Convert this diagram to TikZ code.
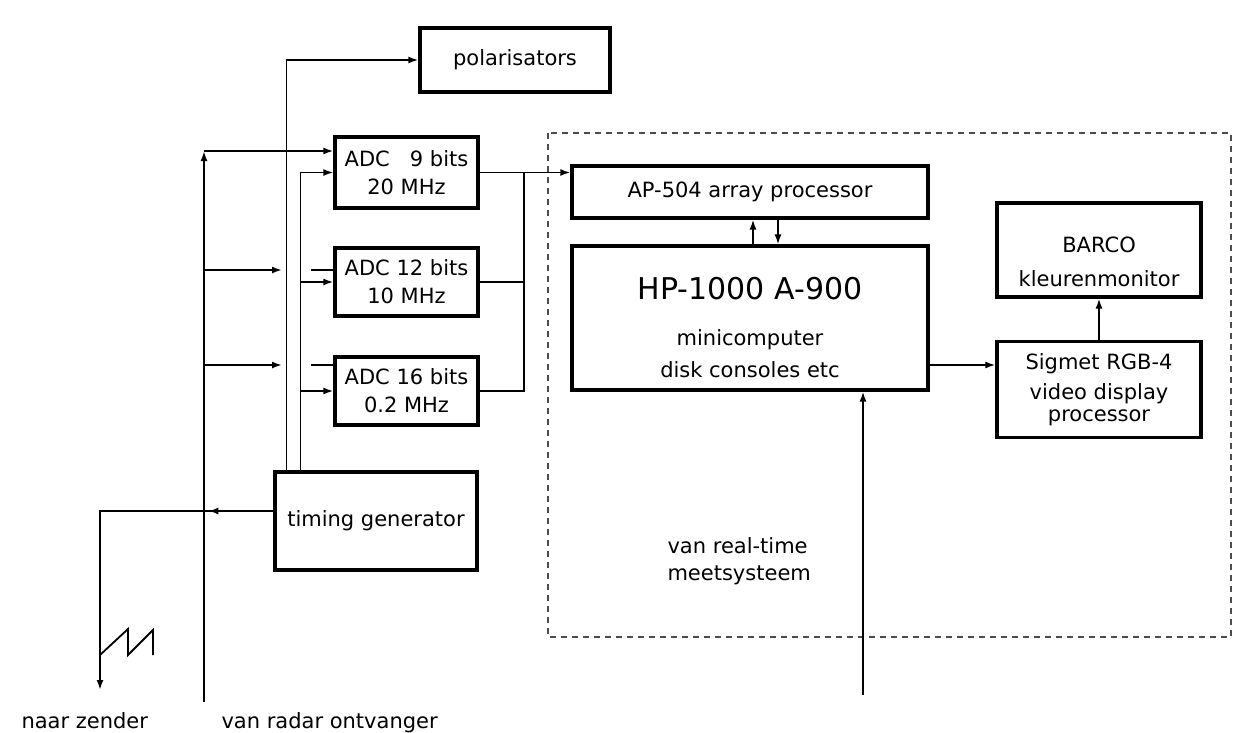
\documentclass[tikz,border=0pt]{standalone}
\usepackage{fontspec}
\setmainfont{DejaVu Sans}
\usetikzlibrary{positioning,arrows.meta,calc}

\begin{document}
\begin{tikzpicture}[x=1pt, y=-1pt,
    font=\fontsize{21}{28}\selectfont,
    blok/.style={draw, line width=3.2pt, inner sep=0pt, align=center},
    lijn/.style={line width=1.8pt},
    pijl/.style={lijn, -{Latex[length=10pt,width=7pt]}}]
  \useasboundingbox (0,0) rectangle (1234,733);

  % Blokken links
  \node[blok, minimum width=190pt, minimum height=64pt] (pol) at (515,60) {polarisators};
  \node[blok, minimum width=143pt, minimum height=71pt] (adcA) at (406.5,172.5) {ADC \phantom{1}9 bits\\20 MHz};
  \node[blok, minimum width=143pt, minimum height=68pt] (adcB) at (406.5,282) {ADC 12 bits\\10 MHz};
  \node[blok, minimum width=143pt, minimum height=68pt] (adcC) at (406.5,391) {ADC 16 bits\\0.2 MHz};
  \node[blok, minimum width=202pt, minimum height=98pt] (tg) at (376,521) {timing generator};

  % Blokken rechts
  \node[blok, minimum width=356pt, minimum height=144pt] (hp) at (750,318) {};
  \node[anchor=base, font=\fontsize{30}{36}\selectfont] (hptitel) at (750,299) {HP-1000 A-900};
  \node[anchor=base] (hpmini) at (750,345) {minicomputer};
  \node[anchor=base] (hpdisk) at (750,377) {disk consoles etc};
  \node[blok, minimum width=356pt, minimum height=52pt] (ap) at (750,192) {AP-504 array processor};
  \node[blok, minimum width=204pt, minimum height=94pt] (barco) at (1099,250) {};
  \node[anchor=base] (barcotitel) at (1099,252) {BARCO};
  \node[anchor=base] (barcomon) at (1099,286) {kleurenmonitor};
  \node[blok, minimum width=204pt, minimum height=96pt] (sig) at (1099,389.5)
    {Sigmet RGB-4\\[2pt]video display\\[-6pt]processor};

  % Meetsysteem
  \draw[dash pattern=on 6pt off 5pt, line width=2pt, black!70] (548,133) rectangle (1231,637);
  \node[anchor=west, align=left, font=\fontsize{21}{27}\selectfont] (rtlabel) at (664,561) {van real-time\\meetsysteem};

  % Radar ingang
  \coordinate (radar) at (204,702);
  \coordinate (radarT) at (204,151);
  \draw[pijl] (radar) -- (radarT);
  \draw[pijl] (radarT) -- (radarT -| adcA.west);
  \foreach \n/\y in {adcB/270, adcC/365} {
    \draw[pijl] (204,\y) -- (282,\y);
    \draw[lijn] (311,\y) -- (\n.west |- 0,\y);
  }
  \node[anchor=base west] (rlabel) at (218,728) {van radar ontvanger};

  % Timing
  \coordinate (tgP) at ($(tg.north west)+(13,0)$);
  \coordinate (tgA) at ($(tg.north west)+(27,0)$);
  \draw[pijl] (tgP) |- (pol.west);
  \draw[pijl] (tgA) |- (adcA.west);
  \foreach \n in {adcB, adcC}
    \draw[pijl] (tgA |- \n.west) -- (\n.west);

  % Naar zender
  \coordinate (tgO) at ($(tg.west)+(0,-10)$);
  \coordinate (zender) at (100,690);
  \draw[pijl] (tgO) -- ++(-65,0);
  \draw[pijl] (tgO) -| (zender);
  \draw[lijn] (100,655) -- (128,629) -- (128,655) -- (153,630) -- (153,655);
  \node[anchor=base west] (zlabel) at (18,728) {naar zender};

  % ADC uitgangen
  \coordinate (bus) at ($(adcA.east)+(44,0)$);
  \draw[pijl] (adcA.east) -- (adcA.east -| ap.west);
  \draw[lijn] (adcC.east) -| (bus);
  \draw[lijn] (adcB.east) -- (adcB.east -| bus);

  % Computer
  \draw[pijl] ([xshift=3pt]hp.north) -- ([xshift=3pt]ap.south);
  \draw[pijl] ([xshift=28pt]ap.south) -- ([xshift=28pt]hp.north);
  \coordinate (hpO) at ($(hp.east)+(0,47)$);
  \draw[pijl] (hpO) -- (hpO -| sig.west);
  \draw[pijl] (sig.north) -- (barco.south);
  \coordinate (rtin) at (863,695);
  \draw[pijl] (rtin) -- (rtin |- hp.south);
\end{tikzpicture}
\end{document}
